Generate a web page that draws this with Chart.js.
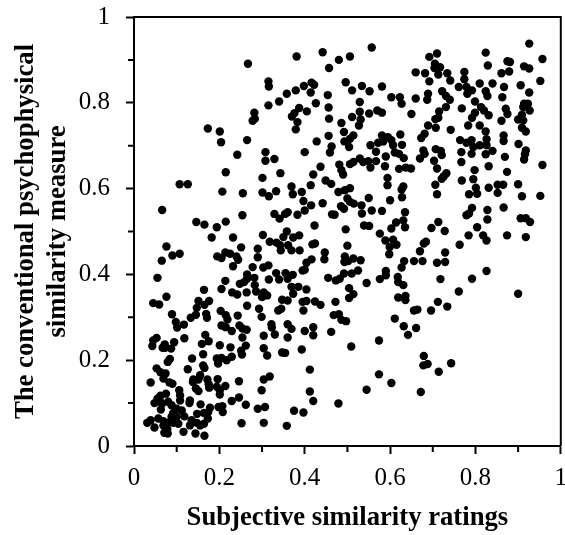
<!DOCTYPE html>
<html>
<head>
<meta charset="utf-8">
<script src="https://cdn.jsdelivr.net/npm/chart.js"></script>
<style>
    body { margin: 0; background: #fff; }
    canvas { display: block; }
</style>
</head>
<body>
<canvas id="chart" width="565" height="535"></canvas>
<script>
const tickLabels = ['0', '0.2', '0.4', '0.6', '0.8', '1'];
const xTitle = 'Subjective similarity ratings';
const yTitle = ['The conventional psychophysical', 'similarity measure'];

// one pair of arrays per quadrant
const ratingsLowLeft = [
    .076,.090,.107,.065,.182,.232,.302,.251,.290,.318,.334,.350,.358,.373,.387,.342,.361,.344,.369,.388,
    .418,.424,.195,.205,.214,.225,.240,.244,.232,.290,.278,.303,.315,.447,.446,.416,.404,.395,.400,.493,
    .333,.265,.265,.355,.372,.340,.360,.316,.282,.283,.248,.258,.214,.205,.164,.055,.076,.045,.059,.151,
    .176,.165,.147,.145,.133,.089,.169,.171,.203,.215,.219,.243,.230,.242,.264,.286,.304,.312,.300,.265,
    .293,.299,.347,.360,.338,.345,.369,.385,.373,.404,.395,.404,.397,.424,.437,.472,.468,.480,.486,.455,
    .473,.482,.492,.098,.101,.117,.247,.254,.264,.205,.215,.229,.322,.323,.360,.369,.400,.420,.420,.462,
    .304,.330,.360,.254,.167,.175,.159,.118,.053,.045,.043,.094,.072,.067,.073,.087,.201,.226,.262,.251,
    .253,.304,.312,.347,.354,.393,.136,.162,.194,.205,.217,.229,.197,.084,.079,.053,.162,.126,.165,.412,
    .062,.074,.069,.083,.090,.039,.155,.139,.138,.151,.172,.196,.175,.176,.194,.214,.201,.201,.145,.151,
    .246,.304,.318,.299,.412,.420,.479,.106,.108,.075,.108,.062,.055,.048,.061,.066,.063,.080,.088,.131,
    .130,.100,.112,.092,.156,.198,.207,.208,.246,.229,.262,.290,.307,.375,.397,.178,.174,.164,.148,.118,
    .088,.057,.039,.031,.048,.069,.069,.078,.071,.079,.092,.104,.116,.131,.135,.147,.155,.164,.173,.144,
    .165,.252,.304,.358,.100,.084
];
const measureLowLeft = [
    .465,.444,.448,.432,.486,.486,.492,.463,.460,.476,.474,.487,.500,.486,.491,.468,.468,.456,.456,.456,
    .470,.472,.442,.438,.451,.448,.442,.434,.419,.440,.417,.416,.421,.451,.435,.435,.427,.409,.411,.429,
    .403,.400,.390,.403,.399,.388,.390,.388,.392,.375,.378,.382,.385,.366,.364,.392,.348,.333,.330,.338,
    .338,.329,.322,.306,.299,.307,.308,.299,.315,.305,.295,.304,.358,.353,.358,.360,.358,.351,.347,.327,
    .320,.301,.341,.339,.316,.320,.371,.371,.355,.365,.336,.338,.316,.337,.329,.336,.305,.307,.294,.392,
    .386,.390,.402,.289,.276,.283,.281,.274,.271,.281,.277,.268,.284,.276,.284,.273,.268,.277,.258,.266,
    .257,.260,.253,.253,.259,.244,.238,.251,.252,.246,.233,.242,.237,.229,.229,.227,.235,.230,.234,.222,
    .213,.228,.211,.218,.217,.225,.204,.214,.204,.205,.200,.208,.192,.203,.196,.181,.188,.179,.182,.178,
    .172,.169,.157,.148,.145,.148,.165,.155,.149,.155,.155,.156,.144,.136,.138,.140,.130,.120,.134,.128,
    .151,.155,.162,.130,.127,.105,.099,.130,.118,.122,.106,.117,.110,.100,.103,.099,.085,.103,.095,.106,
    .100,.087,.083,.077,.097,.091,.093,.079,.113,.105,.096,.087,.091,.082,.078,.089,.079,.077,.075,.069,
    .068,.064,.060,.054,.043,.058,.048,.039,.031,.029,.054,.052,.033,.048,.060,.054,.048,.052,.064,.029,
    .024,.053,.054,.047,.068,.056
];

const ratingsHighLeft = [
    .381,.442,.480,.457,.267,.315,.316,.496,.379,.358,.398,.416,.422,.414,.454,.340,.426,.315,.456,.387,
    .405,.282,.376,.370,.278,.283,.457,.383,.379,.486,.492,.173,.201,.204,.265,.456,.428,.493,.463,.459,
    .400,.308,.308,.329,.242,.481,.437,.486,.490,.215,.343,.420,.301,.449,.462,.107,.126,.414,.369,.207,
    .255,.301,.316,.333,.372,.393,.479,.494,.397,.415,.442,.400,.485,.492,.066,.329,.354,.360,.341,.383,
    .464,.470,.254,.146,.165,.215,.194,.423,.496
];
const measureHighLeft = [
    .908,.918,.900,.881,.891,.850,.838,.848,.829,.821,.839,.847,.842,.824,.818,.803,.799,.794,.789,.788,
    .780,.777,.776,.768,.758,.763,.763,.755,.738,.753,.732,.740,.733,.708,.713,.723,.710,.710,.698,.684,
    .685,.685,.665,.669,.679,.656,.651,.643,.633,.638,.636,.633,.625,.619,.611,.610,.610,.608,.605,.593,
    .589,.591,.582,.594,.587,.592,.592,.596,.571,.561,.566,.549,.559,.553,.550,.541,.541,.545,.530,.539,
    .540,.539,.538,.522,.516,.523,.510,.514,.505
];

const ratingsHighRight = [
    .557,.506,.926,.824,.957,.710,.692,.705,.717,.704,.660,.682,.713,.734,.692,.741,.774,.774,.829,.875,
    .881,.914,.926,.861,.879,.952,.511,.534,.552,.581,.761,.779,.792,.781,.810,.840,.867,.906,.824,.828,
    .863,.926,.603,.623,.627,.660,.689,.687,.722,.731,.740,.529,.799,.914,.923,.927,.912,.871,.875,.813,
    .820,.831,.799,.792,.768,.731,.715,.713,.706,.529,.551,.570,.581,.650,.511,.531,.527,.909,.900,.912,
    .861,.783,.810,.689,.707,.681,.673,.742,.824,.909,.918,.624,.581,.595,.514,.506,.504,.572,.584,.603,
    .628,.554,.607,.567,.590,.611,.621,.632,.866,.866,.901,.764,.779,.791,.826,.826,.810,.795,.791,.767,
    .840,.824,.869,.918,.916,.914,.678,.681,.670,.707,.719,.721,.703,.767,.529,.537,.549,.567,.554,.588,
    .621,.637,.649,.514,.506,.710,.732,.726,.721,.798,.831,.874,.957,.594,.594,.768,.795,.706,.631,.627,
    .628,.710,.506,.801,.804,.785,.831,.852,.865,.900,.852,.909,.952,.550,.600,.500,.506,.515,.533,.534,
    .557,.581,.635,.792,.785,.779,.828,.828,.866,.906,.918,.928,.631,.614,.713,.697,.539,.551,.603,.635,
    .804,.728
];
const measureHighRight = [
    .929,.908,.938,.917,.902,.915,.907,.891,.883,.881,.871,.869,.866,.869,.850,.852,.872,.855,.887,.897,
    .895,.885,.880,.869,.873,.851,.829,.839,.827,.838,.837,.837,.829,.821,.845,.845,.837,.841,.827,.816,
    .813,.824,.813,.813,.798,.810,.821,.807,.827,.816,.807,.802,.803,.798,.798,.782,.790,.786,.774,.790,
    .782,.771,.777,.765,.787,.790,.780,.765,.762,.779,.775,.782,.777,.774,.767,.761,.747,.772,.761,.759,
    .758,.747,.747,.747,.742,.728,.718,.737,.733,.742,.733,.726,.724,.720,.724,.716,.697,.707,.710,.713,
    .702,.701,.701,.686,.675,.684,.681,.671,.724,.711,.704,.713,.707,.713,.715,.701,.701,.697,.681,.685,
    .688,.680,.674,.689,.680,.668,.689,.681,.670,.692,.688,.678,.665,.662,.670,.662,.664,.664,.649,.652,
    .646,.649,.647,.662,.657,.647,.636,.629,.623,.643,.652,.639,.655,.625,.608,.619,.622,.609,.605,.598,
    .580,.587,.601,.602,.588,.587,.602,.609,.609,.610,.590,.582,.583,.578,.573,.577,.569,.565,.561,.542,
    .549,.548,.545,.555,.542,.538,.550,.528,.556,.531,.531,.522,.526,.521,.522,.508,.514,.513,.507,.510,
    .510,.501
];

const ratingsLowRight = [
    .500,.494,.514,.531,.502,.589,.599,.598,.607,.615,.576,.670,.684,.679,.763,.784,.818,.826,.874,.918,
    .729,.710,.729,.656,.676,.633,.627,.525,.510,.590,.590,.576,.618,.619,.631,.545,.718,.792,.826,.761,
    .900,.504,.514,.504,.619,.636,.636,.656,.664,.696,.712,.734,.611,.632,.661,.642,.497,.574,.509,.679,
    .678,.688,.743,.714,.574,.603,.545,.672
];
const measureLowRight = [
    .467,.442,.437,.433,.431,.479,.464,.447,.481,.469,.495,.454,.476,.472,.469,.491,.491,.479,.491,.487,
    .451,.427,.429,.431,.431,.431,.416,.409,.402,.408,.398,.389,.394,.382,.375,.380,.389,.390,.408,.360,
    .355,.368,.354,.345,.346,.350,.340,.316,.318,.316,.336,.325,.297,.279,.275,.259,.291,.246,.232,.210,
    .188,.191,.193,.173,.167,.147,.131,.126
];

const subjectiveRatings = [...ratingsLowLeft, ...ratingsHighLeft, ...ratingsHighRight, ...ratingsLowRight];
const conventionalMeasure = [...measureLowLeft, ...measureHighLeft, ...measureHighRight, ...measureLowRight];

const isMinor = v => Math.round(v * 10) % 2 === 1;
const tickText = v => isMinor(v) ? '' : tickLabels[Math.round(v * 5)];

// Chart.js has one tick length per axis, so the short ticks and the top/right frame go here
const framePlugin = {
    id: 'frame',
    afterDraw(chart) {
        const { ctx, chartArea: a, scales } = chart;
        ctx.save();
        ctx.strokeStyle = '#000';
        ctx.lineWidth = 2;
        ctx.beginPath();
        ctx.moveTo(a.left, a.top);
        ctx.lineTo(a.right, a.top);
        ctx.lineTo(a.right, a.bottom);
        scales.x.ticks.filter(t => isMinor(t.value)).forEach(t => {
            const px = scales.x.getPixelForValue(t.value);
            ctx.moveTo(px, a.bottom);
            ctx.lineTo(px, a.bottom + 6);
        });
        scales.y.ticks.filter(t => isMinor(t.value)).forEach(t => {
            const py = scales.y.getPixelForValue(t.value);
            ctx.moveTo(a.left, py);
            ctx.lineTo(a.left - 6, py);
        });
        ctx.stroke();
        ctx.restore();
    }
};

const axisBase = {
    min: 0,
    max: 1,
    grid: {
        drawOnChartArea: false,
        tickLength: 8,
        tickWidth: 2,
        tickColor: c => isMinor(c.tick.value) ? 'transparent' : '#000'
    },
    border: { color: '#000', width: 2 }
};
const tickFont = { family: 'Liberation Serif', size: 25 };
const titleFont = { family: 'Liberation Serif', size: 26.7, weight: 'bold', lineHeight: 1.2 };

new Chart(document.getElementById('chart'), {
    type: 'scatter',
    data: {
        datasets: [{
            data: subjectiveRatings.map((x, i) => ({ x, y: conventionalMeasure[i] })),
            backgroundColor: '#000',
            borderWidth: 0,
            pointRadius: 4.2
        }]
    },
    options: {
        responsive: false,
        animation: false,
        devicePixelRatio: 1,
        layout: { padding: { top: 17, right: 4, left: 10, bottom: 1 } },
        plugins: { legend: { display: false }, tooltip: { enabled: false } },
        scales: {
            x: {
                ...axisBase,
                afterFit(scale) { scale.height = 88; scale.paddingRight = 0; },
                ticks: { stepSize: 0.1, autoSkip: false, maxRotation: 0, font: tickFont, color: '#000', padding: 9, callback: tickText },
                title: { display: true, text: xTitle, font: titleFont, color: '#000', padding: { top: 0, bottom: 0 } }
            },
            y: {
                ...axisBase,
                afterFit(scale) { scale.width = 124; scale.paddingTop = 0; scale.paddingBottom = 0; },
                ticks: { stepSize: 0.1, autoSkip: false, font: tickFont, color: '#000', padding: 16, callback: tickText },
                title: { display: true, text: yTitle, font: titleFont, color: '#000', padding: { top: 0, bottom: 0 } }
            }
        }
    },
    plugins: [framePlugin]
});
</script>
</body>
</html>
